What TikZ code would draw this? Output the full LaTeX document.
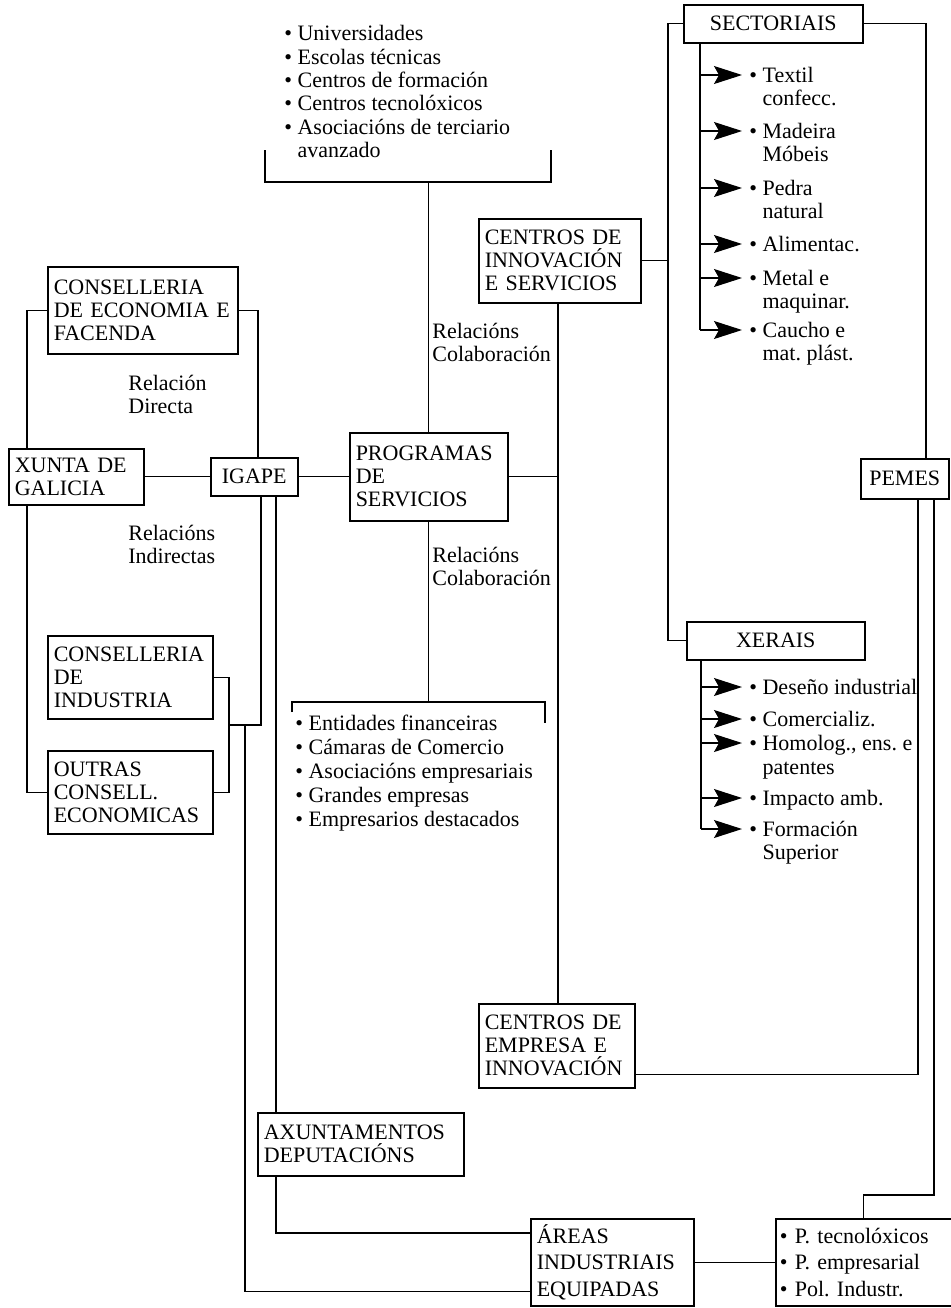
\documentclass[tikz,border=0pt]{standalone}
\usepackage{fontspec}
\setmainfont{Liberation Serif}
\usetikzlibrary{arrows.meta,calc}
\frenchspacing
\begin{document}
\begin{tikzpicture}[x=0.5pt,y=-0.5pt,
  font=\fontsize{11}{11.5}\selectfont\frenchspacing,
  ln/.style={line width=0.6pt},
  bx/.style 2 args={draw, line width=0.75pt, inner xsep=3pt, inner ysep=2pt,
     align=left, text width=#1, minimum height=#2, anchor=north west},
  bxc/.style 2 args={draw, line width=0.75pt, inner xsep=3pt, inner ysep=2pt,
     align=center, text width=#1, minimum height=#2, anchor=north west},
  it/.style={inner sep=0pt, anchor=west, text height=7.5pt, text depth=0.5pt},
  arr/.style={line width=0.6pt, -{Stealth[length=14pt,width=9pt,inset=2.5pt]}, shorten >=3.5pt}]
\useasboundingbox (0,0) rectangle (951,1308);
\fill[white] (0,0) rectangle (951,1308);

% boxes
\node[bx={89pt}{43.5pt}] (econ) at (47,266) {CONSELLERIA\\DE ECONOMIA E\\FACENDA};
\node[bx={61.5pt}{28pt}] (xunta) at (8,448) {XUNTA DE\\GALICIA};
\node[bxc={37.5pt}{19pt}] (igape) at (210,457) {IGAPE};
\node[bx={76.5pt}{41.5pt}] (indus) at (47,635) {CONSELLERIA\\DE\\INDUSTRIA};
\node[bx={76.5pt}{41.5pt}] (outras) at (47,750) {OUTRAS\\CONSELL.\\ECONOMICAS};
\node[bx={73pt}{44pt}] (prog) at (349,432) {PROGRAMAS\\DE\\SERVICIOS};
\node[bx={75pt}{42pt}] (cinn) at (478,218) {CENTROS DE\\INNOVACIÓN\\E SERVICIOS};
\node[bxc={83.5pt}{19pt}] (sect) at (683,4) {SECTORIAIS};
\node[bxc={83pt}{19pt}] (xerais) at (686,621) {XERAIS};
\node[bxc={38pt}{20pt}] (pemes) at (860,458) {PEMES};
\node[bx={72pt}{42pt}] (cemp) at (478,1003) {CENTROS DE\\EMPRESA E\\INNOVACIÓN};
\node[bx={97pt}{31.5pt}] (axun) at (257,1112) {AXUNTAMENTOS\\DEPUTACIÓNS};
\node[bx={75.5pt}{43.5pt}, font=\fontsize{11}{13.2}\selectfont] (areas) at (530,1218) {ÁREAS\\INDUSTRIAIS\\EQUIPADAS};
\node[bx={84pt}{43.5pt}, inner xsep=2pt, font=\fontsize{11}{13.2}\selectfont] (pbox) at (775,1218) {\textbullet\ P. tecnolóxicos\\\textbullet\ P. empresarial\\\textbullet\ Pol. Industr.};

% top list
\node[it] (u1) at (284,33) {\textbullet\ Universidades};
\node[it] (u2) at (284,57) {\textbullet\ Escolas técnicas};
\node[it] (u3) at (284,80) {\textbullet\ Centros de formación};
\node[it] (u4) at (284,103) {\textbullet\ Centros tecnolóxicos};
\node[it] (u5) at (284,127) {\textbullet\ Asociacións de terciario};
\node[it] (u6) at (284,150) {\phantom{\textbullet\ }avanzado};

% bottom list
\node[it] (e1) at (295,723) {\textbullet\ Entidades financeiras};
\node[it] (e2) at (295,747) {\textbullet\ Cámaras de Comercio};
\node[it] (e3) at (295,771) {\textbullet\ Asociacións empresariais};
\node[it] (e4) at (295,795) {\textbullet\ Grandes empresas};
\node[it] (e5) at (295,819) {\textbullet\ Empresarios destacados};

% labels
\node[it] (rd1) at (128,383) {Relación};
\node[it] (rd2) at (128,406) {Directa};
\node[it] (ri1) at (128,533) {Relacións};
\node[it] (ri2) at (128,556) {Indirectas};
\node[it] (rc1) at (432,331) {Relacións};
\node[it] (rc2) at (432,354) {Colaboración};
\node[it] (rc3) at (432,555) {Relacións};
\node[it] (rc4) at (432,578) {Colaboración};

% sectoriais items
\node[it] (s1) at (749,75) {\textbullet\ Textil};
\node[it] (s1b) at (749,98) {\phantom{\textbullet\ }confecc.};
\node[it] (s2) at (749,131) {\textbullet\ Madeira};
\node[it] (s2b) at (749,154) {\phantom{\textbullet\ }Móbeis};
\node[it] (s3) at (749,188) {\textbullet\ Pedra};
\node[it] (s3b) at (749,211) {\phantom{\textbullet\ }natural};
\node[it] (s4) at (749,244) {\textbullet\ Alimentac.};
\node[it] (s5) at (749,278) {\textbullet\ Metal e};
\node[it] (s5b) at (749,301) {\phantom{\textbullet\ }maquinar.};
\node[it] (s6) at (749,330) {\textbullet\ Caucho e};
\node[it] (s6b) at (749,353) {\phantom{\textbullet\ }mat. plást.};

% xerais items
\node[it] (x1) at (749,687) {\textbullet\ Deseño industrial};
\node[it] (x2) at (749,719) {\textbullet\ Comercializ.};
\node[it] (x3) at (749,743) {\textbullet\ Homolog., ens. e};
\node[it] (x3b) at (749,767) {\phantom{\textbullet\ }patentes};
\node[it] (x4) at (749,798) {\textbullet\ Impacto amb.};
\node[it] (x5) at (749,829) {\textbullet\ Formación};
\node[it] (x5b) at (749,852) {\phantom{\textbullet\ }Superior};

% helper coordinates
\coordinate (xl) at (27,0);
\coordinate (igL) at (258,0);
\coordinate (vC) at (558,0);
\coordinate (vS) at (668,0);
\coordinate (pR) at (926,0);
\coordinate (sA) at (700,0);
\coordinate (xA) at (701,0);
\coordinate (p1) at (918,0);
\coordinate (p2) at (934,0);
\coordinate (g1) at (261,0);
\coordinate (g2) at (276,0);
\coordinate (bk) at (229,0);
\coordinate (jy) at (0,725);
\coordinate (j2) at (245,725);
\coordinate (tbl) at (265,150);
\coordinate (tbr) at (551,150);
\coordinate (tby) at (0,182);
\coordinate (bbl) at (292,712);
\coordinate (bbr) at (545,723);
\coordinate (bby) at (0,702);

% connectors left
\draw[ln] (econ.west) -| (xl |- xunta.north);
\draw[ln] (econ.east) -| (igL |- igape.north);
\draw[ln] (xunta.east) -- (igape.west);
\draw[ln] (igape.east) -- (prog.west);
\draw[ln] (xl |- xunta.south) |- (outras.west);
\draw[ln] (indus.east) -| (bk |- outras.east) -- (outras.east);
\draw[ln] (g1 |- igape.south) |- (bk |- jy);
\draw[ln] (j2) |- ($(areas.south west)+(0,-15)$);
\draw[ln] (g2 |- igape.south) -- (g2 |- axun.north);
\draw[ln] (g2 |- axun.south) |- ($(areas.north west)+(0,15)$);
\draw[ln] (areas.east) -- (pbox.west);

% brackets
\draw[ln] (tbl) -- (tbl |- tby) -- (tbr |- tby) -- (tbr);
\draw[ln] (prog.north) -- (prog.north |- tby);
\draw[ln] (bbl) -- (bbl |- bby) -- (bbr |- bby) -- (bbr);
\draw[ln] (prog.south) -- (prog.south |- bby);

% centre / right
\draw[ln] (prog.east) -- (prog.east -| vC);
\draw[ln] (vC |- cinn.south) -- (vC |- cemp.north);
\draw[ln] (cinn.east) -- (cinn.east -| vS);
\draw[ln] (sect.west) -| (vS |- xerais.west) -- (xerais.west);
\draw[ln] (sect.east) -| (pR |- pemes.north);
\draw[ln] (p1 |- pemes.south) |- ($(cemp.south east)+(0,-14)$);
\draw[ln] (p2 |- pemes.south) |- ($(pbox.north)+(0,-23)$) -- (pbox.north);

% arrows sectoriais
\draw[ln] (sA |- sect.south) -- (sA |- s6.west);
\foreach \n in {s1,s2,s3,s4,s5,s6} \draw[arr] (sA |- \n.west) -- (\n.west);
% arrows xerais
\draw[ln] (xA |- xerais.south) -- (xA |- x5.west);
\foreach \n in {x1,x2,x3,x4,x5} \draw[arr] (xA |- \n.west) -- (\n.west);
\end{tikzpicture}
\end{document}
